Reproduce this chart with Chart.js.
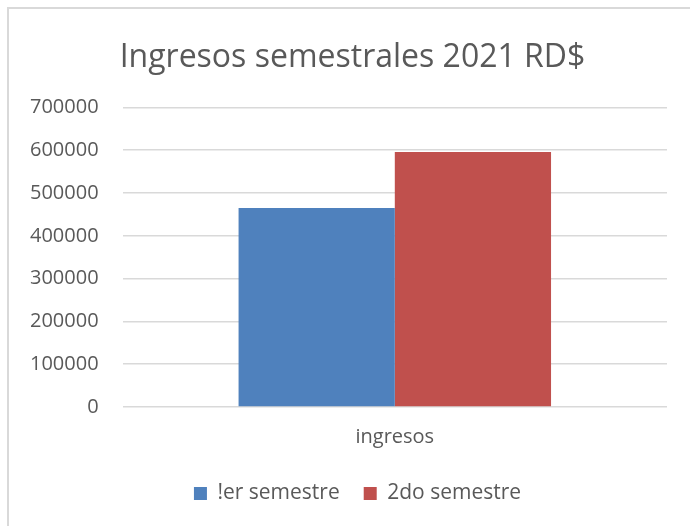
<!DOCTYPE html>
<html lang="es">
<head>
<meta charset="UTF-8">
<title>Ingresos semestrales 2021 RD$</title>
<script src="https://cdn.jsdelivr.net/npm/chart.js"></script>
<style>
    body { margin: 0; background: #fff; overflow: hidden; }
    /* only the top and left edges of the chart frame show in the picture */
    #frame {
        position: absolute;
        left: 7px; top: 7px;
        width: 683px; height: 519px;
        border-left: 2px solid #d9d9d9;
        border-top: 2px solid #d9d9d9;
        box-sizing: border-box;
    }
    #wrap { position: absolute; left: 0; top: 0; width: 690px; height: 526px; }
</style>
</head>
<body>
<div id="frame"></div>
<div id="wrap"><canvas id="myChart" width="690" height="526"></canvas></div>
<script>
    // data
    var categories = ['ingresos'];
    var seriesNames = ['!er semestre', '2do semestre'];
    var firstHalf = [465000];
    var secondHalf = [595700];
    var colors = ['#4f81bd', '#c0504d'];

    var font = "'Open Sans', 'Liberation Sans', sans-serif";

    // title and legend sit a bit right of the canvas centre in the original
    var nudgeBlocks = {
        id: 'nudgeBlocks',
        afterLayout: function (chart) {
            chart.titleBlock.left += 16;
            chart.titleBlock.right += 16;
            chart.legend.left += 21;
            chart.legend.right += 21;
        }
    };

    var ctx = document.getElementById('myChart').getContext('2d');
    var myChart = new Chart(ctx, {
        type: 'bar',
        data: {
            labels: categories,
            datasets: [
                { label: seriesNames[0], data: firstHalf, backgroundColor: colors[0] },
                { label: seriesNames[1], data: secondHalf, backgroundColor: colors[1] }
            ]
        },
        plugins: [nudgeBlocks],
        options: {
            responsive: false,
            animation: false,
            categoryPercentage: 0.574,
            barPercentage: 1,
            layout: { padding: { left: 6, right: 23, top: 39, bottom: 12 } },
            plugins: {
                title: {
                    display: true,
                    text: 'Ingresos semestrales 2021 RD$',
                    color: '#595959',
                    font: { family: font, size: 32, weight: 'normal' },
                    padding: { top: 0, bottom: 30 }
                },
                legend: {
                    position: 'bottom',
                    labels: {
                        color: '#595959',
                        font: { family: font, size: 21 },
                        boxWidth: 13,
                        boxHeight: 13,
                        padding: 24
                    }
                },
                tooltip: { enabled: false }
            },
            scales: {
                x: {
                    grid: { display: false },
                    border: { display: false },
                    ticks: { color: '#595959', font: { family: font, size: 20 }, padding: 10 }
                },
                y: {
                    min: 0,
                    max: 700000,
                    ticks: {
                        stepSize: 100000,
                        color: '#595959',
                        font: { family: font, size: 20 },
                        padding: 24,
                        callback: function (v) { return String(v); }
                    },
                    grid: { color: '#d9d9d9', lineWidth: 1.5, drawTicks: false },
                    border: { display: false }
                }
            }
        }
    });
</script>
</body>
</html>
